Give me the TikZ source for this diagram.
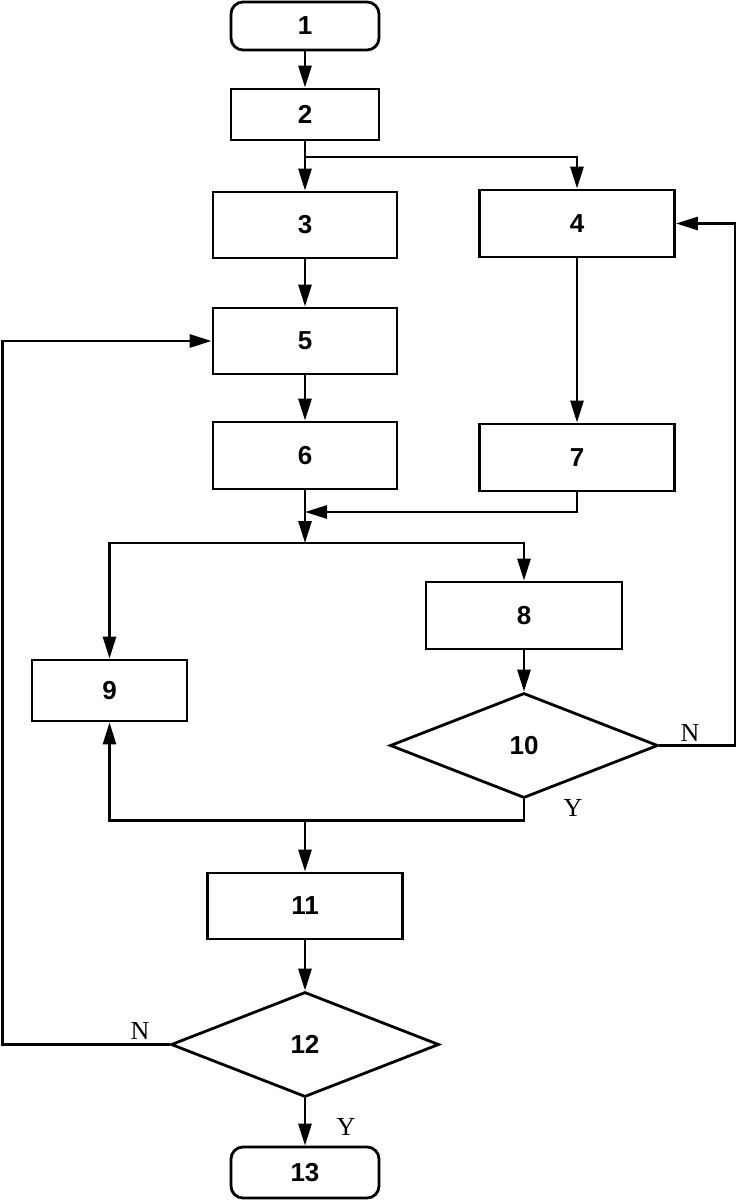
\documentclass[tikz,border=0pt]{standalone}
\usepackage{fontspec}
\setmainfont{Liberation Sans}
\newfontfamily\lblfont{Liberation Serif}
\usetikzlibrary{arrows.meta,shapes.geometric}
\begin{document}
\begin{tikzpicture}[x=1pt,y=-1pt,line width=2.8pt,
  box/.style={draw,rectangle,inner sep=0pt,font=\bfseries\fontsize{26}{30}\selectfont},
  term/.style={box,rounded corners=12pt},
  dec/.style={draw,diamond,aspect=2.55,inner sep=0pt,minimum width=268pt,minimum height=105pt,font=\bfseries\fontsize{26}{30}\selectfont},
  lbl/.style={font=\lblfont\fontsize{26}{30}\selectfont,inner sep=0pt},
  arr/.style={-{Triangle[length=22pt,width=13pt]}}]
\useasboundingbox[fill=white] (0,0) rectangle (737,1200);
\node[term,minimum width=148pt,minimum height=48pt] (n1) at (305,26) {1};
\node[box,minimum width=148pt,minimum height=51pt] (n2) at (305,114.5) {2};
\node[box,minimum width=184pt,minimum height=66pt] (n3) at (305,225) {3};
\node[box,minimum width=195pt,minimum height=67pt] (n4) at (577,223.5) {4};
\node[box,minimum width=184pt,minimum height=66pt] (n5) at (305,341) {5};
\node[box,minimum width=184pt,minimum height=67pt] (n6) at (305,455.5) {6};
\node[box,minimum width=195pt,minimum height=67pt] (n7) at (577,457.5) {7};
\node[box,minimum width=196pt,minimum height=67pt] (n8) at (524,615.5) {8};
\node[box,minimum width=155pt,minimum height=61pt] (n9) at (109.5,690.5) {9};
\node[dec] (n10) at (524,745.5) {10};
\node[box,minimum width=195pt,minimum height=66pt] (n11) at (305,906) {11};
\node[dec] (n12) at (305,1044.5) {12};
\node[term,minimum width=148pt,minimum height=51pt] (n13) at (305,1172.5) {13};
\coordinate (b2) at (305,157);
\coordinate (j0) at (305,512);
\coordinate (j1) at (305,543);
\coordinate (j2) at (305,820.5);
\coordinate (rc) at (735,0);
\coordinate (lc) at (2.5,0);
\draw[arr] (n1) -- (n2);
\draw[arr] (n2) -- (n3);
\draw[arr] (b2) -| (n4);
\draw[arr] (n3) -- (n5);
\draw[arr] (n5) -- (n6);
\draw[arr] (n4) -- (n7);
\draw[arr] (n6) -- (j1);
\draw[arr] (n7.south) |- (j0);
\draw[arr] (j1) -| (n9);
\draw[arr] (j1) -| (n8);
\draw[arr] (n8) -- (n10);
\draw[arr] (n10.east) -- (n10.east -| rc) |- (n4.east);
\draw[arr] (n10.south) |- (j2) -| (n9.south);
\draw[arr] (j2) -- (n11);
\draw[arr] (n11) -- (n12);
\draw[arr] (n12) -- (n13);
\draw[arr] (n12.west) -- (n12.west -| lc) |- (n5.west);
\node[lbl] (lN1) at (690,733) {N};
\node[lbl] (lY1) at (573,808) {Y};
\node[lbl] (lN2) at (140,1031) {N};
\node[lbl] (lY2) at (346,1127) {Y};
\end{tikzpicture}
\end{document}
